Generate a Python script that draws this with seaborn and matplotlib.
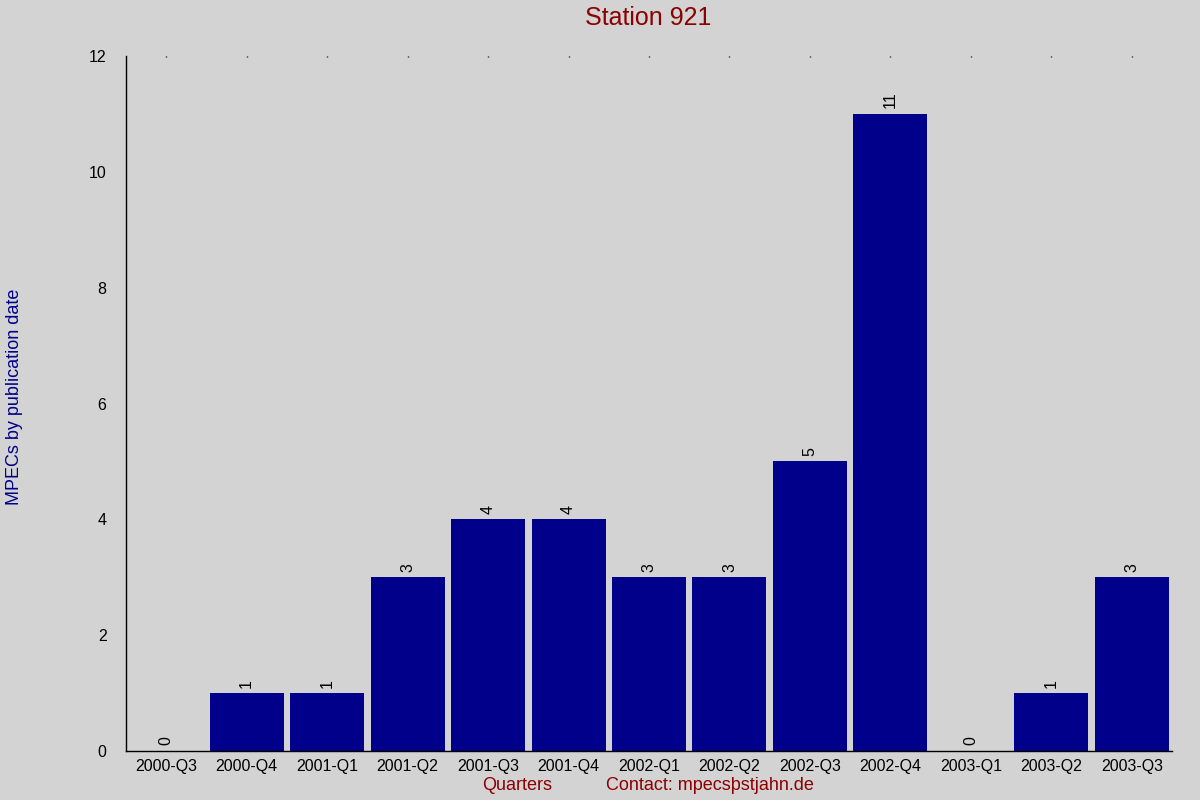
import numpy as np
import pandas as pd
import seaborn as sns
import matplotlib.pyplot as plt

# data
quarters = ["2000-Q3", "2000-Q4", "2001-Q1", "2001-Q2", "2001-Q3", "2001-Q4", "2002-Q1",
            "2002-Q2", "2002-Q3", "2002-Q4", "2003-Q1", "2003-Q2", "2003-Q3"]
counts = [0, 1, 1, 3, 4, 4, 3, 3, 5, 11, 0, 1, 3]
yticks = [0, 2, 4, 6, 8, 10, 12]

df = pd.DataFrame({"Quarter": quarters, "MPECs": counts})

sns.set_style("white")
plt.rcParams["font.family"] = ["Liberation Sans", "DejaVu Sans"]

bg = "#d3d3d3"
fig = plt.figure(figsize=(12, 8), dpi=100, facecolor=bg)
ax = fig.add_axes([0.105, 0.06125, 0.8717, 0.86875])
ax.set_facecolor(bg)

sns.barplot(data=df, x="Quarter", y="MPECs", color="#00008b", saturation=1,
            width=0.92, edgecolor="none", linewidth=0, ax=ax)

ax.bar_label(ax.containers[0], labels=[str(c) for c in counts], padding=4,
             rotation=90, fontsize=11.5, color="black")

ax.set_ylim(0, 12)
ax.set_xlim(-0.5, len(quarters) - 0.5)
ax.set_yticks(yticks)
ax.set_yticklabels([str(t) for t in yticks], fontsize=11.5)
ax.tick_params(axis="y", direction="out", length=7, width=1, pad=7, colors="black")
ax.tick_params(axis="x", bottom=False, top=True, labelbottom=True, labeltop=False,
               length=1, width=1, direction="in", labelsize=11.5, pad=6,
               colors="black")

for s in ["top", "right"]:
    ax.spines[s].set_visible(False)
for s in ["left", "bottom"]:
    ax.spines[s].set_color("black")
    ax.spines[s].set_linewidth(1)

ax.set_xlabel("")
ax.set_ylabel("")

fig.text(0.54, 0.978, "Station 921", color="#8b0000", fontsize=18, ha="center", va="center")
fig.text(0.012, 0.504, "MPECs by publication date", color="#00008b", fontsize=13,
         rotation=90, ha="center", va="center")
fig.text(0.431, 0.0175, "Quarters", color="#8b0000", fontsize=13, ha="center", va="center")
fig.text(0.592, 0.0175, "Contact: mpecsþstjahn.de", color="#8b0000", fontsize=13,
         ha="center", va="center")

fig.savefig("out.png", dpi=100, facecolor=bg)
